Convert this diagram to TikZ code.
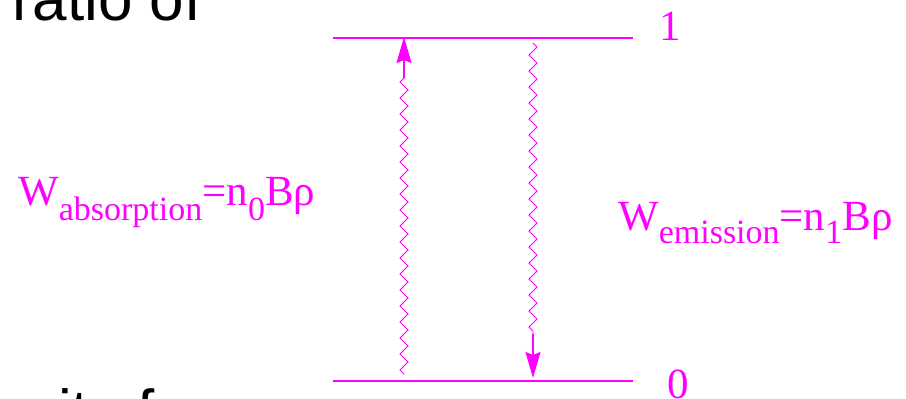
\documentclass[tikz,border=0pt]{standalone}
\usepackage{fontspec}
\setmainfont{Liberation Serif}
\newfontfamily\arialf{Liberation Sans}
\usetikzlibrary{decorations.pathmorphing,arrows.meta}
\definecolor{mag}{RGB}{255,0,255}
\newcommand\lowsub[2]{\raisebox{-#1}{\fontsize{34}{34}\selectfont #2}}
\begin{document}
\begin{tikzpicture}[x=1pt,y=-1pt,
  level/.style={draw=mag,line width=2pt},
  wave/.style={draw=mag,line width=0.9pt,decorate,decoration={zigzag,segment length=16pt,amplitude=4pt}},
  shaft/.style={draw=mag,line width=1.4pt,-{Stealth[length=26pt,width=15pt,inset=3pt]}},
  lab/.style={text=mag,inner sep=0pt,font=\fontsize{43}{43}\selectfont},
  blk/.style={text=black,inner sep=0pt,font=\arialf\fontsize{62}{62}\selectfont}]
\useasboundingbox (0,0) rectangle (906,399);
\clip (0,0) rectangle (906,399);
\fill[white] (0,0) rectangle (906,399);
% black background text
\node[blk,anchor=base west] (ratio) at (12,20.7) {ratio of};
\node[blk,anchor=base west] (sity) at (27,433) {sity f};
% levels
\coordinate (t0) at (333,38);  \coordinate (t1) at (633,38);
\coordinate (b0) at (333,380.5); \coordinate (b1) at (633,380.5);
\draw[level] (t0) -- (t1);
\draw[level] (b0) -- (b1);
\node[lab,anchor=base] (one) at (670,40) {1};
\node[lab,anchor=base] (zero) at (678,398) {0};
% absorption (up)
\coordinate (u0) at (404,374); \coordinate (u1) at (404,78); \coordinate (u2) at (404,37);
\draw[wave] (u0) -- (u1);
\draw[shaft] (u1) -- (u2);
% emission (down)
\coordinate (d0) at (533,43); \coordinate (d1) at (533,334); \coordinate (d2) at (533,378);
\draw[wave] (d0) -- (d1);
\draw[shaft] (d1) -- (d2);
% labels
\node[lab,anchor=base west] (wabs) at (18,205) {W\lowsub{15pt}{absorption}=n\lowsub{15pt}{0}Bρ};
\node[lab,anchor=base west] (wemi) at (618,230) {W\lowsub{13pt}{emission}=n\lowsub{13pt}{1}Bρ};
\end{tikzpicture}
\end{document}
